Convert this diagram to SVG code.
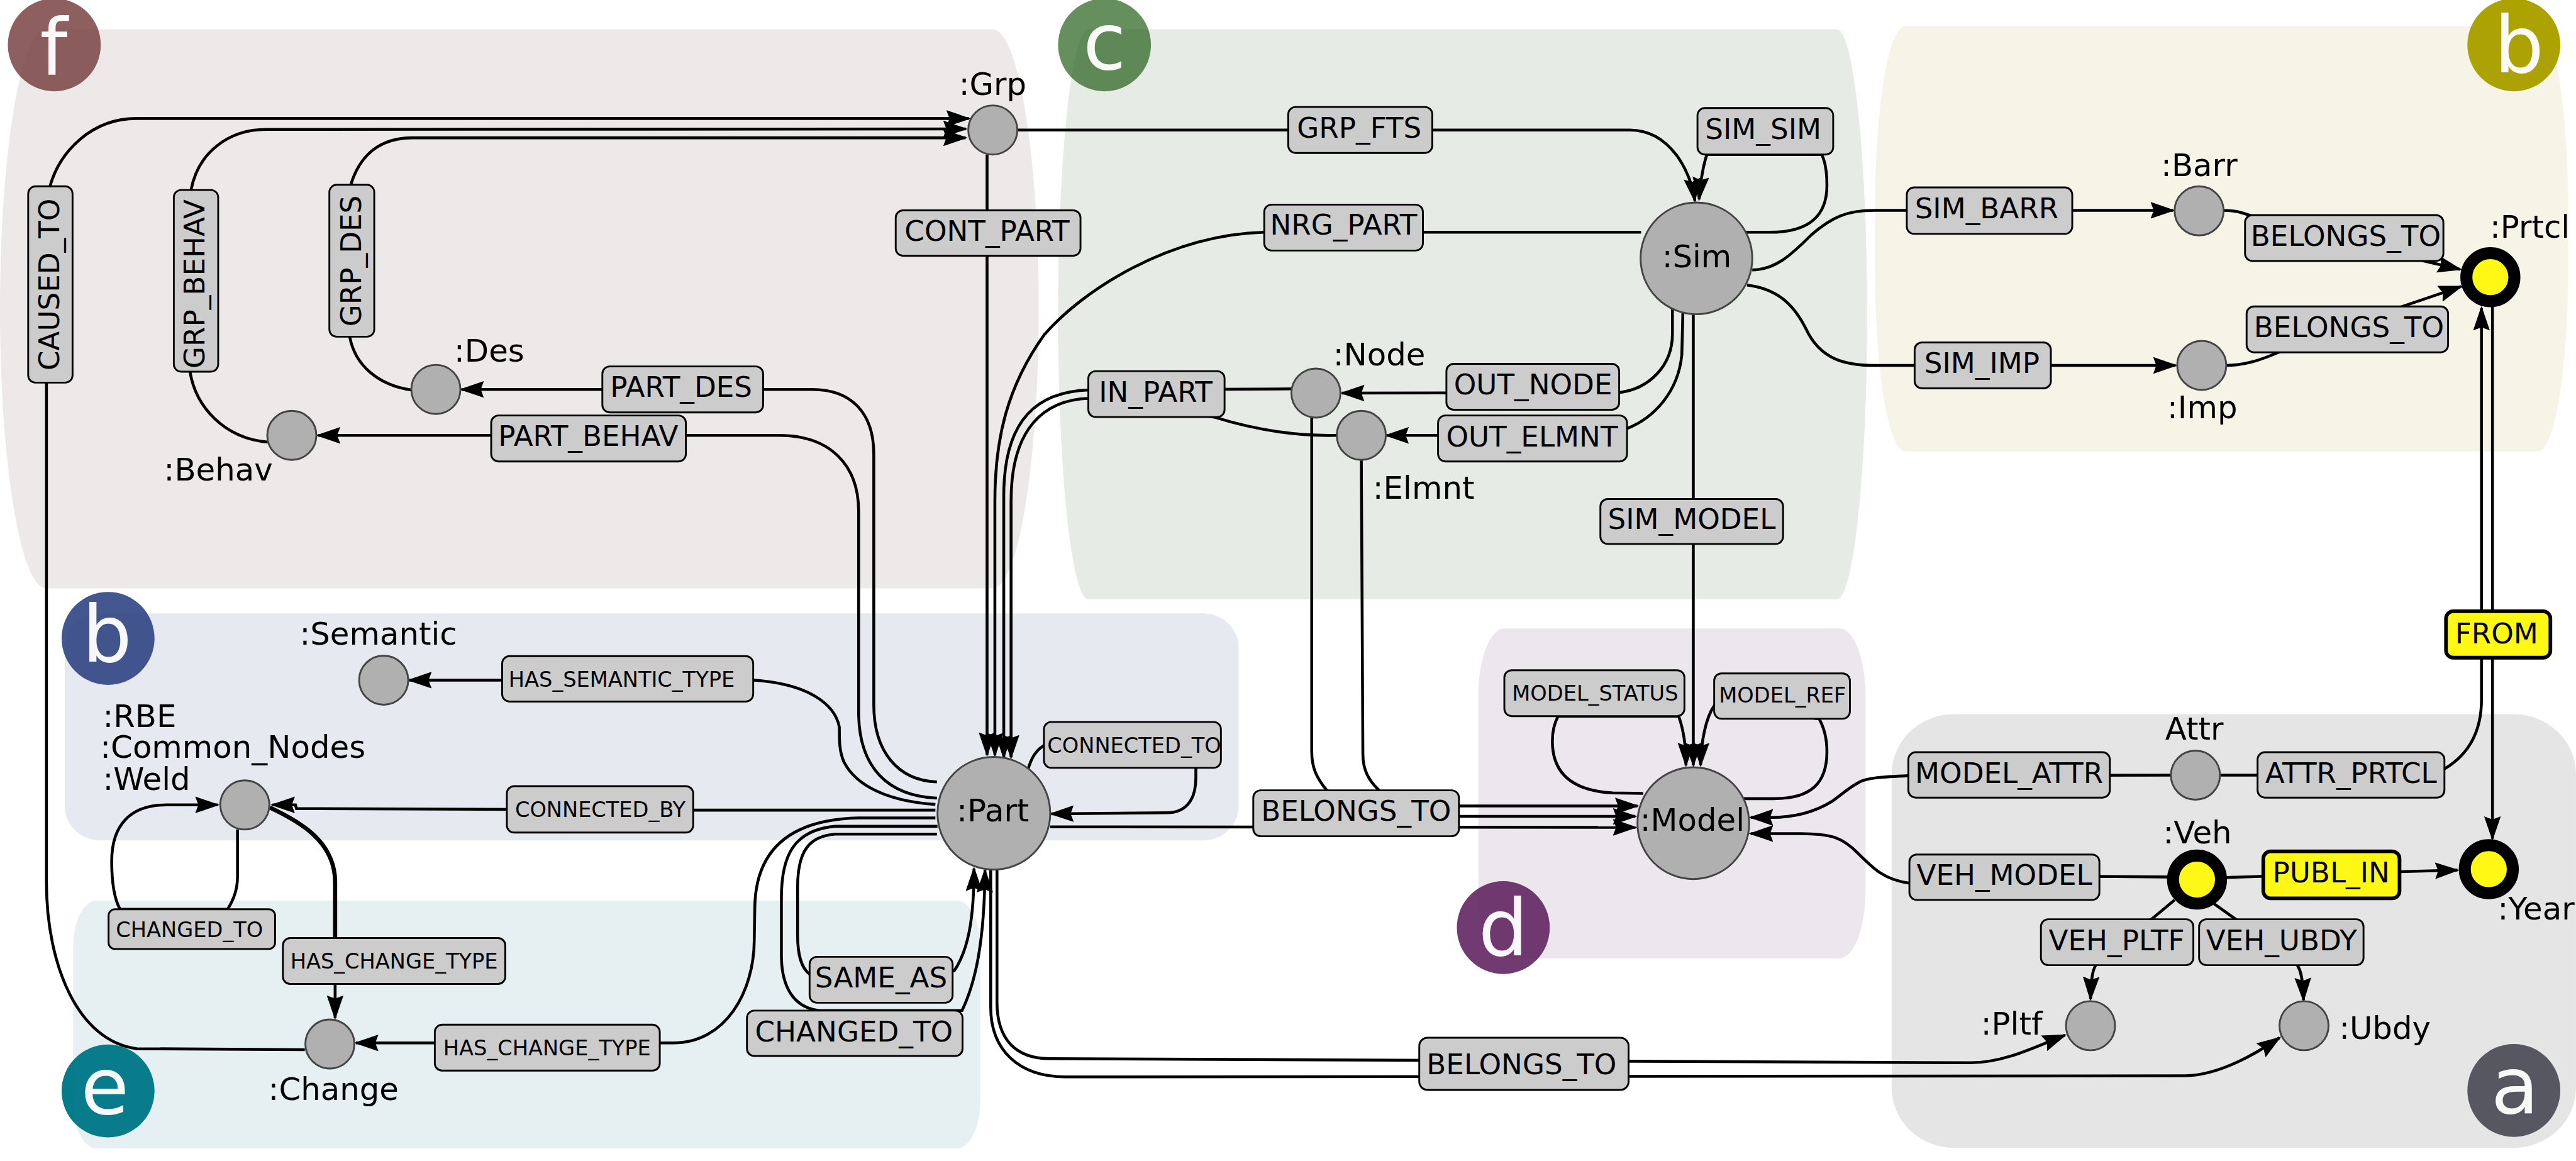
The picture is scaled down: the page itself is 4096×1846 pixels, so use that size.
<svg xmlns="http://www.w3.org/2000/svg" width="4096" height="1846" viewBox="0 0 4096 1846">
<style>
text{font-family:"DejaVu Sans","Liberation Sans",sans-serif;fill:#000}
.reg{fill-opacity:.12}
.let{font-size:150px;fill:#fff;text-anchor:middle;fill-opacity:.96}
.n{fill:#b0b0b0;stroke:#444;stroke-width:3.5}
.y{fill:#fff714;stroke:#000;stroke-width:23}
.t{font-size:60px}
.c{fill:none;stroke:#000;stroke-width:5.5}
.k{stroke-width:8}
.a{marker-end:url(#ah)}
.b{fill:#ccc;stroke:#000;stroke-width:3.5}
.by{fill:#fff714;stroke:#000;stroke-width:7}
.l{font-size:54.5px;text-anchor:middle}
.s{font-size:40.5px;text-anchor:middle}
</style>
<defs>
<marker id="ah" markerUnits="userSpaceOnUse" markerWidth="60" markerHeight="44" refX="43" refY="22" orient="auto"><path d="M47,22 L0,6 L6,22 L0,38 Z" fill="#000"/></marker>
</defs>
<g transform="scale(0.82998)">
<g id="badges">
<circle cx="104" cy="86" r="89" fill="#8e5f5f"/>
<circle cx="207" cy="1223" r="89" fill="#445690"/>
<circle cx="207" cy="2090" r="89" fill="#047b8a"/>
<circle cx="2116" cy="86" r="89" fill="#658f5d"/>
<circle cx="4816" cy="86" r="89" fill="#aca200"/>
<circle cx="2880" cy="1777" r="89" fill="#713a70"/>
<circle cx="4816" cy="2089" r="89" fill="#5e5e6a"/>
</g>
<g id="regions">
<rect class="reg" fill="#714848" x="0" y="56" width="1990" height="1071" rx="88" ry="535"/>
<rect class="reg" fill="#37582f" x="2027" y="56" width="1550" height="1092" rx="58" ry="546"/>
<rect class="reg" fill="#aca32f" x="3592" y="50" width="1328" height="815" rx="58" ry="350"/>
<rect class="reg" fill="#2f4882" x="124" y="1175" width="2249" height="435" rx="68" ry="66"/>
<rect class="reg" fill="#2f8293" x="140" y="1725" width="1738" height="475" rx="45" ry="90"/>
<rect class="reg" fill="#613769" x="2832" y="1204" width="742" height="632" rx="50" ry="130"/>
<rect class="reg" fill="#262626" x="3624" y="1368" width="1311" height="831" rx="120" ry="115"/>
</g>
<g id="badge-letters">
<text class="let" x="103" y="143">f</text>
<text class="let" x="205" y="1268">b</text>
<text class="let" x="201" y="2134">e</text>
<text class="let" x="2116" y="133">c</text>
<text class="let" x="4826" y="139">b</text>
<text class="let" x="2880" y="1830">d</text>
<text class="let" x="4818" y="2133">a</text>
</g>
<g id="connectors">
<path class="c a" d="M584,2011 L262,2009 C150,1995 89,1850 89,1690 L89,733 L96,356 C115,290 175,227 262,227 L1856,227"/>
<path class="c a" d="M513,847 C430,840 375,780 364,712 L366,364 C380,290 440,248 510,248 L1850,247"/>
<path class="c a" d="M788,747 C725,738 680,700 670,645 L672,354 C690,295 730,264 790,264 L1850,264"/>
<path class="c a" d="M1891,296 L1891,1446"/>
<path class="c a" d="M3144,445 L2422,445 C2240,450 2075,555 2000,642 C1930,740 1906,840 1906,960 L1906,1447"/>
<path class="c a" d="M2474,745 L2087,747 C1990,750 1923,800 1923,950 L1923,1451"/>
<path class="c a" d="M2561,834 C2480,836 2400,822 2326,799 L2087,763 C2000,766 1937,820 1937,960 L1937,1451"/>
<path class="c a" d="M1949,249 L3122,249 C3200,249 3240,330 3247,385"/>
<path class="c a" d="M3342,445 L3390,445 C3470,445 3500,410 3500,355 C3500,330 3497,310 3490,296 L3270,296 C3262,320 3258,345 3255,382"/>
<path class="c a" d="M3204,592 L3204,640 C3204,700 3160,745 3102,752 L2571,753"/>
<path class="c a" d="M3224,600 L3222,680 C3215,750 3170,800 3117,821 L3050,834 L2656,834"/>
<path class="c a" d="M3244,601 L3244,1466"/>
<path class="c a" d="M3148,1520 L3090,1519 C3010,1515 2974,1480 2974,1420 C2974,1400 2978,1385 2985,1372 L3216,1372 C3226,1400 3230,1430 3230,1466"/>
<path class="c a" d="M3339,1530 L3398,1530 C3470,1530 3500,1500 3500,1440 C3500,1415 3495,1395 3485,1377 L3284,1352 C3268,1375 3259,1420 3258,1466"/>
<path class="c a" d="M2513,799 L2513,1440 C2513,1470 2522,1490 2541,1513 L2580,1544 L3137,1544"/>
<path class="c a" d="M2608,880 L2611,1445 C2611,1475 2622,1495 2641,1513 L2680,1564 L3133,1564"/>
<path class="c a" d="M2012,1584 L3133,1585"/>
<path class="c a" d="M4159,1485 L3656,1486 C3610,1488 3575,1490 3561,1499 C3540,1510 3525,1525 3510,1535 C3470,1560 3430,1566 3393,1566 L3354,1566"/>
<path class="c a" d="M4152,1680 L4022,1679 L3658,1692 C3610,1685 3590,1665 3560,1635 C3530,1605 3510,1597 3449,1597 L3354,1597"/>
<path class="c a" d="M4253,1485 L4600,1485 L4683,1473 C4730,1445 4754,1400 4754,1340 L4754,590"/>
<path class="c a" d="M4775,587 L4775,1607"/>
<path class="c a" d="M4266,1681 L4597,1670 L4708,1667"/>
<path class="c a" d="M4166,1724 L4122,1761 L4015,1849 C4008,1860 4006,1880 4005,1914"/>
<path class="c a" d="M4241,1731 L4282,1760 L4401,1849 C4409,1860 4412,1880 4413,1916"/>
<path class="c a" d="M1910,1667 L1910,1920 C1910,1990 1945,2028 2010,2028 L3775,2036 C3840,2036 3900,2005 3956,1983"/>
<path class="c a" d="M1898,1667 L1898,1930 C1898,2010 1950,2063 2041,2063 L4186,2061 C4250,2060 4320,2020 4367,1988"/>
<path class="c a" d="M1969,1475 C1976,1452 1984,1436 2005,1425 L2291,1426 L2291,1490 C2291,1535 2270,1557 2235,1557 L2014,1559"/>
<path class="c a" d="M1795,1498 C1720,1495 1674,1440 1674,1350 L1674,870 C1674,790 1630,746 1556,746 L884,746"/>
<path class="c a" d="M1795,1529 C1700,1525 1647,1470 1645,1370 L1645,980 C1645,890 1590,834 1492,834 L609,834"/>
<path class="c a" d="M1792,1541 C1700,1535 1640,1505 1617,1460 C1608,1440 1608,1420 1608,1393 C1600,1350 1550,1310 1444,1303 L784,1303"/>
<path class="c a" d="M1792,1552 L1328,1552 L568,1549 L566,1542 L522,1542"/>
<path class="c a" d="M1792,1567 L1645,1567 C1510,1570 1447,1630 1446,1740 L1445,1800 C1445,1900 1390,1998 1290,1998 L682,1998"/>
<path class="c a" d="M1796,1583 L1600,1583 C1520,1590 1497,1640 1497,1720 L1497,1830 C1497,1890 1520,1930 1569,1936 L1843,1936 C1870,1880 1886,1800 1887,1667"/>
<path class="c a" d="M1795,1598 L1600,1598 C1550,1602 1528,1630 1528,1700 L1528,1790 C1528,1830 1535,1855 1552,1867 L1828,1860 C1855,1820 1866,1760 1866,1664"/>
<path class="c k" d="M517,1547 C570,1572 642,1610 642,1690 L642,1797"/>
<path class="c a" d="M642,1885 L642,1950"/>
<path class="c a" d="M455,1589 L455,1680 C455,1705 447,1725 436,1742 L230,1742 C218,1720 214,1690 214,1650 C214,1580 250,1542 319,1542 L417,1542"/>
<path class="c a" d="M3357,517 C3400,517 3430,490 3470,450 C3510,415 3540,403 3590,403 L4163,403"/>
<path class="c a" d="M3347,546 C3420,555 3445,600 3465,640 C3490,685 3530,700 3590,700 L4168,700"/>
<path class="c a" d="M4260,403 C4285,403 4295,408 4315,414 L4644,500 L4713,516"/>
<path class="c a" d="M4265,700 C4300,700 4330,690 4365,675 L4603,587 L4715,549"/>
</g>
<g id="edge-labels">
<g id="e-caused-to"><rect class="b" x="54" y="357" width="85" height="376" rx="14"/><text class="l" transform="translate(113 545) rotate(-90)">CAUSED_TO</text></g>
<g id="e-grp-behav"><rect class="b" x="333" y="364" width="85" height="348" rx="14"/><text class="l" transform="translate(391 544) rotate(-90)">GRP_BEHAV</text></g>
<g id="e-grp-des"><rect class="b" x="631" y="354" width="86" height="291" rx="14"/><text class="l" transform="translate(692 500) rotate(-90)">GRP_DES</text></g>
<g id="e-cont-part"><rect class="b" x="1716" y="403" width="354" height="87" rx="14"/><text class="l" x="1891" y="462">CONT_PART</text></g>
<g id="e-part-des"><rect class="b" x="1154" y="702" width="308" height="88" rx="14"/><text class="l" x="1305" y="760">PART_DES</text></g>
<g id="e-part-behav"><rect class="b" x="941" y="796" width="373" height="88" rx="14"/><text class="l" x="1127" y="854">PART_BEHAV</text></g>
<g id="e-semantic"><rect class="b" x="962" y="1257" width="481" height="87" rx="14"/><text class="s" x="1191" y="1316">HAS_SEMANTIC_TYPE</text></g>
<g id="e-connected-by"><rect class="b" x="971" y="1506" width="357" height="89" rx="14"/><text class="s" x="1150" y="1565">CONNECTED_BY</text></g>
<g id="e-changed-small"><rect class="b" x="208" y="1742" width="319" height="76" rx="12"/><text class="s" x="363" y="1795">CHANGED_TO</text></g>
<g id="e-change-upper"><rect class="b" x="542" y="1797" width="426" height="88" rx="14"/><text class="s" x="755" y="1855">HAS_CHANGE_TYPE</text></g>
<g id="e-change-lower"><rect class="b" x="833" y="1963" width="431" height="88" rx="14"/><text class="s" x="1048" y="2022">HAS_CHANGE_TYPE</text></g>
<g id="e-same-as"><rect class="b" x="1551" y="1833" width="274" height="88" rx="14"/><text class="l" x="1688" y="1892">SAME_AS</text></g>
<g id="e-changed-large"><rect class="b" x="1431" y="1936" width="413" height="87" rx="14"/><text class="l" x="1636" y="1995">CHANGED_TO</text></g>
<g id="e-grp-fts"><rect class="b" x="2468" y="205" width="276" height="88" rx="14"/><text class="l" x="2604" y="264">GRP_FTS</text></g>
<g id="e-sim-sim"><rect class="b" x="3252" y="207" width="260" height="89" rx="14"/><text class="l" x="3378" y="266">SIM_SIM</text></g>
<g id="e-nrg-part"><rect class="b" x="2422" y="392" width="304" height="88" rx="14"/><text class="l" x="2574" y="450">NRG_PART</text></g>
<g id="e-in-part"><rect class="b" x="2085" y="711" width="261" height="88" rx="14"/><text class="l" x="2214" y="770">IN_PART</text></g>
<g id="e-out-node"><rect class="b" x="2771" y="697" width="331" height="88" rx="14"/><text class="l" x="2937" y="756">OUT_NODE</text></g>
<g id="e-out-elmnt"><rect class="b" x="2755" y="796" width="362" height="88" rx="14"/><text class="l" x="2935" y="855">OUT_ELMNT</text></g>
<g id="e-sim-model"><rect class="b" x="3066" y="956" width="350" height="86" rx="14"/><text class="l" x="3241" y="1013">SIM_MODEL</text></g>
<g id="e-sim-barr"><rect class="b" x="3653" y="359" width="317" height="89" rx="14"/><text class="l" x="3806" y="418">SIM_BARR</text></g>
<g id="e-sim-imp"><rect class="b" x="3668" y="656" width="261" height="88" rx="14"/><text class="l" x="3797" y="714">SIM_IMP</text></g>
<g id="e-belongs-barr"><rect class="b" x="4301" y="412" width="380" height="88" rx="14"/><text class="l" x="4494" y="471">BELONGS_TO</text></g>
<g id="e-belongs-imp"><rect class="b" x="4304" y="587" width="386" height="88" rx="14"/><text class="l" x="4500" y="646">BELONGS_TO</text></g>
<g id="e-connected-to"><rect class="b" x="2000" y="1383" width="339" height="88" rx="14"/><text class="s" x="2173" y="1442">CONNECTED_TO</text></g>
<g id="e-belongs-model"><rect class="b" x="2401" y="1514" width="394" height="88" rx="14"/><text class="l" x="2598" y="1572">BELONGS_TO</text></g>
<g id="e-model-status"><rect class="b" x="2882" y="1284" width="345" height="88" rx="14"/><text class="s" x="3056" y="1342">MODEL_STATUS</text></g>
<g id="e-model-ref"><rect class="b" x="3284" y="1290" width="260" height="87" rx="14"/><text class="s" x="3415" y="1346">MODEL_REF</text></g>
<g id="e-belongs-low"><rect class="b" x="2719" y="1988" width="401" height="100" rx="16"/><text class="l" x="2915" y="2058">BELONGS_TO</text></g>
<g id="e-from"><rect class="by" x="4686" y="1171" width="200" height="89" rx="14"/><text class="l" x="4783" y="1232">FROM</text></g>
<g id="e-model-attr"><rect class="b" x="3656" y="1441" width="386" height="87" rx="14"/><text class="l" x="3849" y="1500">MODEL_ATTR</text></g>
<g id="e-attr-prtcl"><rect class="b" x="4325" y="1441" width="358" height="87" rx="14"/><text class="l" x="4504" y="1500">ATTR_PRTCL</text></g>
<g id="e-veh-model"><rect class="b" x="3658" y="1637" width="364" height="87" rx="14"/><text class="l" x="3840" y="1695">VEH_MODEL</text></g>
<g id="e-publ-in"><rect class="by" x="4336" y="1631" width="261" height="90" rx="14"/><text class="l" x="4466" y="1690">PUBL_IN</text></g>
<g id="e-veh-pltf"><rect class="b" x="3910" y="1761" width="292" height="88" rx="14"/><text class="l" x="4055" y="1820">VEH_PLTF</text></g>
<g id="e-veh-ubdy"><rect class="b" x="4213" y="1761" width="315" height="88" rx="14"/><text class="l" x="4371" y="1820">VEH_UBDY</text></g>
</g>
<g id="n-grp"><circle class="n" cx="1902" cy="249" r="47"/><text class="t" x="1837" y="182">:Grp</text></g>
<g id="n-des"><circle class="n" cx="835" cy="746" r="47"/><text class="t" x="870" y="693">:Des</text></g>
<g id="n-behav"><circle class="n" cx="559" cy="834" r="47"/><text class="t" x="314" y="920">:Behav</text></g>
<g id="n-semantic"><circle class="n" cx="735" cy="1303" r="47"/><text class="t" x="574" y="1235">:Semantic</text></g>
<g id="n-weld"><circle class="n" cx="469" cy="1542" r="47"/><text class="t" x="197" y="1393">:RBE</text><text class="t" x="192" y="1452">:Common_Nodes</text><text class="t" x="197" y="1513">:Weld</text></g>
<g id="n-change"><circle class="n" cx="632" cy="2000" r="47"/><text class="t" x="514" y="2107">:Change</text></g>
<g id="n-part"><circle class="n" cx="1904" cy="1558" r="108"/><text class="t" x="1833" y="1574">:Part</text></g>
<g id="n-sim"><circle class="n" cx="3250" cy="495" r="107"/><text class="t" x="3184" y="512">:Sim</text></g>
<g id="n-node"><circle class="n" cx="2521" cy="753" r="47"/><text class="t" x="2554" y="700">:Node</text></g>
<g id="n-elmnt"><circle class="n" cx="2608" cy="834" r="47"/><text class="t" x="2630" y="956">:Elmnt</text></g>
<g id="n-barr"><circle class="n" cx="4213" cy="404" r="47"/><text class="t" x="4140" y="337">:Barr</text></g>
<g id="n-imp"><circle class="n" cx="4218" cy="700" r="47"/><text class="t" x="4152" y="801">:Imp</text></g>
<g id="n-prtcl"><circle class="y" cx="4771" cy="531" r="46"/><text class="t" x="4770" y="455">:Prtcl</text></g>
<g id="n-model"><circle class="n" cx="3244" cy="1577" r="107"/><text class="t" x="3142" y="1592">:Model</text></g>
<g id="n-attr"><circle class="n" cx="4206" cy="1485" r="47"/><text class="t" x="4148" y="1417">Attr</text></g>
<g id="n-veh"><circle class="y" cx="4209" cy="1685" r="46"/><text class="t" x="4144" y="1616">:Veh</text></g>
<g id="n-year"><circle class="y" cx="4768" cy="1665" r="46"/><text class="t" x="4785" y="1762">:Year</text></g>
<g id="n-pltf"><circle class="n" cx="4005" cy="1965" r="47"/><text class="t" x="3795" y="1982">:Pltf</text></g>
<g id="n-ubdy"><circle class="n" cx="4414" cy="1965" r="47"/><text class="t" x="4481" y="1990">:Ubdy</text></g>
</g>
</svg>
